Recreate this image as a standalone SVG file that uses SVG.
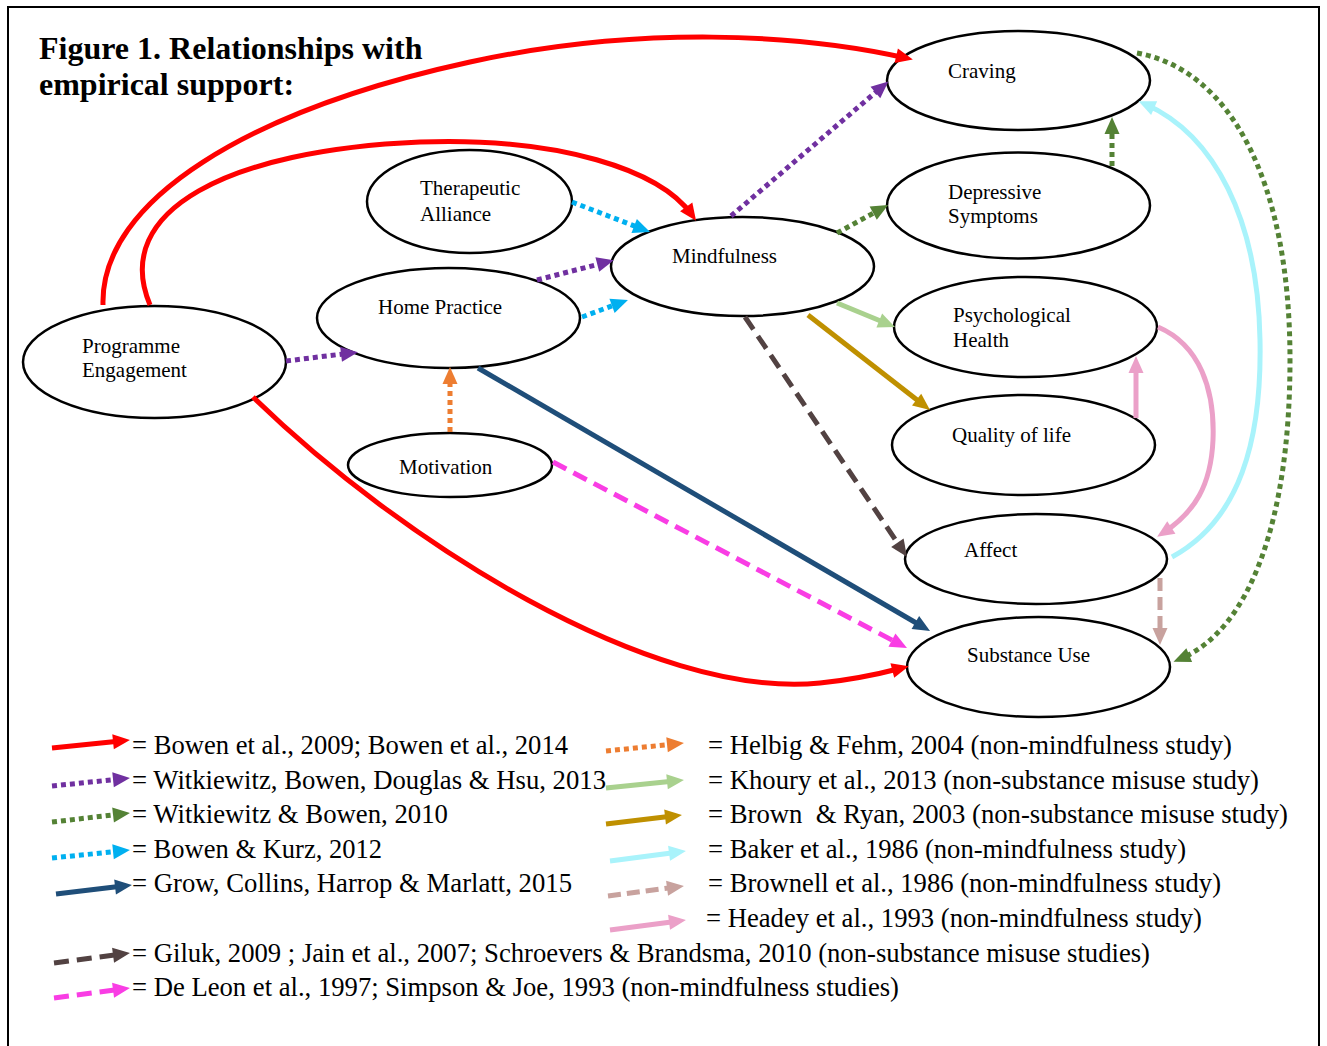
<svg xmlns="http://www.w3.org/2000/svg" width="1327" height="1046" viewBox="0 0 1327 1046">
<style>
text{font-family:"Liberation Serif","Times New Roman",serif;fill:#000}
.title{font-size:32px;font-weight:bold}
.lbl{font-size:21px}
.leg{font-size:26.5px}
.node{fill:#fff;stroke:#000;stroke-width:2.5}
.c{fill:none;stroke-width:5}
.dot{stroke-dasharray:5 4}
.dash{stroke-dasharray:15 8}
.dash2{stroke-dasharray:13 6}
.red{stroke:#FF0000}.pur{stroke:#7030A0}.grn{stroke:#548235}.cya{stroke:#00B0F0}.nav{stroke:#1F4E79}
.brn{stroke:#524242}.mag{stroke:#F93DE4}.org{stroke:#ED7D31}.lgr{stroke:#A9D18E}.gld{stroke:#BF9000}
.lcy{stroke:#A9F3FB}.ros{stroke:#C8A29E}.pnk{stroke:#EBA0C8}
</style>
<defs>
<marker id="mRed" markerUnits="userSpaceOnUse" markerWidth="17" markerHeight="15" refX="10" refY="7.5" orient="auto" overflow="visible"><path d="M0,0 L17,7.5 L0,15 z" fill="#FF0000"/></marker>
<marker id="mPur" markerUnits="userSpaceOnUse" markerWidth="17" markerHeight="15" refX="10" refY="7.5" orient="auto" overflow="visible"><path d="M0,0 L17,7.5 L0,15 z" fill="#7030A0"/></marker>
<marker id="mGrn" markerUnits="userSpaceOnUse" markerWidth="17" markerHeight="15" refX="10" refY="7.5" orient="auto" overflow="visible"><path d="M0,0 L17,7.5 L0,15 z" fill="#548235"/></marker>
<marker id="mCya" markerUnits="userSpaceOnUse" markerWidth="17" markerHeight="15" refX="10" refY="7.5" orient="auto" overflow="visible"><path d="M0,0 L17,7.5 L0,15 z" fill="#00B0F0"/></marker>
<marker id="mNav" markerUnits="userSpaceOnUse" markerWidth="17" markerHeight="15" refX="10" refY="7.5" orient="auto" overflow="visible"><path d="M0,0 L17,7.5 L0,15 z" fill="#1F4E79"/></marker>
<marker id="mBrn" markerUnits="userSpaceOnUse" markerWidth="17" markerHeight="15" refX="10" refY="7.5" orient="auto" overflow="visible"><path d="M0,0 L17,7.5 L0,15 z" fill="#524242"/></marker>
<marker id="mMag" markerUnits="userSpaceOnUse" markerWidth="17" markerHeight="15" refX="10" refY="7.5" orient="auto" overflow="visible"><path d="M0,0 L17,7.5 L0,15 z" fill="#F93DE4"/></marker>
<marker id="mOrg" markerUnits="userSpaceOnUse" markerWidth="17" markerHeight="15" refX="10" refY="7.5" orient="auto" overflow="visible"><path d="M0,0 L17,7.5 L0,15 z" fill="#ED7D31"/></marker>
<marker id="mLgr" markerUnits="userSpaceOnUse" markerWidth="17" markerHeight="15" refX="10" refY="7.5" orient="auto" overflow="visible"><path d="M0,0 L17,7.5 L0,15 z" fill="#A9D18E"/></marker>
<marker id="mGld" markerUnits="userSpaceOnUse" markerWidth="17" markerHeight="15" refX="10" refY="7.5" orient="auto" overflow="visible"><path d="M0,0 L17,7.5 L0,15 z" fill="#BF9000"/></marker>
<marker id="mLcy" markerUnits="userSpaceOnUse" markerWidth="17" markerHeight="15" refX="10" refY="7.5" orient="auto" overflow="visible"><path d="M0,0 L17,7.5 L0,15 z" fill="#A9F3FB"/></marker>
<marker id="mRos" markerUnits="userSpaceOnUse" markerWidth="17" markerHeight="15" refX="10" refY="7.5" orient="auto" overflow="visible"><path d="M0,0 L17,7.5 L0,15 z" fill="#C8A29E"/></marker>
<marker id="mPnk" markerUnits="userSpaceOnUse" markerWidth="17" markerHeight="15" refX="10" refY="7.5" orient="auto" overflow="visible"><path d="M0,0 L17,7.5 L0,15 z" fill="#EBA0C8"/></marker>
</defs>
<rect x="0" y="0" width="1327" height="1046" fill="#fff"/>
<rect x="8" y="7" width="1311" height="1060" fill="none" stroke="#000" stroke-width="2"/>
<text class="title" x="39" y="59">Figure 1. Relationships with</text>
<text class="title" x="39" y="95">empirical support:</text>

<g id="nodes">
<g id="craving"><ellipse class="node" cx="1018.5" cy="80.5" rx="131.5" ry="49.5"/><text class="lbl" x="948" y="78">Craving</text></g>
<g id="depressive"><ellipse class="node" cx="1018.5" cy="205.5" rx="131.5" ry="53"/><text class="lbl" x="948" y="199">Depressive</text><text class="lbl" x="948" y="223">Symptoms</text></g>
<g id="mindfulness"><ellipse class="node" cx="742.5" cy="266.5" rx="131.5" ry="49.5"/><text class="lbl" x="672" y="263">Mindfulness</text></g>
<g id="alliance"><ellipse class="node" cx="469.5" cy="201.5" rx="102.5" ry="51.5"/><text class="lbl" x="420" y="195">Therapeutic</text><text class="lbl" x="420" y="221">Alliance</text></g>
<g id="homepractice"><ellipse class="node" cx="448.5" cy="318" rx="131.5" ry="50"/><text class="lbl" x="378" y="314">Home Practice</text></g>
<g id="motivation"><ellipse class="node" cx="450" cy="465" rx="102" ry="32"/><text class="lbl" x="399" y="474">Motivation</text></g>
<g id="engagement"><ellipse class="node" cx="154.5" cy="362" rx="131.5" ry="56"/><text class="lbl" x="82" y="353">Programme</text><text class="lbl" x="82" y="377">Engagement</text></g>
<g id="psychhealth"><ellipse class="node" cx="1025.5" cy="327" rx="131.5" ry="50"/><text class="lbl" x="953" y="322">Psychological</text><text class="lbl" x="953" y="347">Health</text></g>
<g id="qol"><ellipse class="node" cx="1023.5" cy="445" rx="131.5" ry="50"/><text class="lbl" x="952" y="442">Quality of life</text></g>
<g id="affect"><ellipse class="node" cx="1036" cy="559" rx="131" ry="45"/><text class="lbl" x="964" y="557">Affect</text></g>
<g id="substance"><ellipse class="node" cx="1038.5" cy="667" rx="131.5" ry="50"/><text class="lbl" x="967" y="662">Substance Use</text></g>
</g>

<g id="connectors">
<path class="c red" marker-end="url(#mRed)" d="M103,305 C100,200 250,110 470,62 C640,25 800,34 906,58"/>
<path class="c red" marker-end="url(#mRed)" d="M150,305 C110,210 230,150 420,142 C560,137 660,170 692,215"/>
<path class="c red" marker-end="url(#mRed)" d="M253,397 C400,540 650,700 820,683 C850,680 875,675 902,668"/>
<path class="c pur dot" marker-end="url(#mPur)" d="M286,361 L351,353"/>
<path class="c pur dot" marker-end="url(#mPur)" d="M537,280 L607,262"/>
<path class="c pur dot" marker-end="url(#mPur)" d="M731,216 L883,86"/>
<path class="c cya dot" marker-end="url(#mCya)" d="M572,202 L643.5,229.5"/>
<path class="c cya dot" marker-end="url(#mCya)" d="M582,317 L621.4,302.4"/>
<path class="c org dot" marker-end="url(#mOrg)" d="M450,432 L450,374"/>
<path class="c nav" marker-end="url(#mNav)" d="M478,368 L924,627.5"/>
<path class="c mag dash" marker-end="url(#mMag)" d="M553,462 L900.8,644.7"/>
<path class="c grn dot" marker-end="url(#mGrn)" d="M837,233 L882,208.4"/>
<path class="c grn dot" marker-end="url(#mGrn)" d="M1112,166 L1112,124"/>
<path class="c grn dot" marker-end="url(#mGrn)" d="M1137,53 C1230,70 1290,180 1290,360 C1290,520 1250,630 1180,659"/>
<path class="c lcy" marker-end="url(#mLcy)" d="M1172,557 C1240,520 1262,440 1260,340 C1258,220 1215,135 1145,104"/>
<path class="c pnk" marker-end="url(#mPnk)" d="M1158,327 C1200,345 1215,390 1213,440 C1211,485 1195,512 1163,533"/>
<path class="c pnk" marker-end="url(#mPnk)" d="M1136,418 L1136,363"/>
<path class="c ros dash2" marker-end="url(#mRos)" d="M1160,578 L1160,638"/>
<path class="c lgr" marker-end="url(#mLgr)" d="M837,303 L888.5,324.3"/>
<path class="c gld" marker-end="url(#mGld)" d="M808,315 L924.5,405.7"/>
<path class="c brn dash" marker-end="url(#mBrn)" d="M745,317 L903,551"/>
</g>

<g id="legend">
<path class="c red" marker-end="url(#mRed)" d="M52,748 L123,740.7"/>
<path class="c pur dot" marker-end="url(#mPur)" d="M52,786 L123,778.7"/>
<path class="c grn dot" marker-end="url(#mGrn)" d="M52,822 L123,813.8"/>
<path class="c cya dot" marker-end="url(#mCya)" d="M52,858 L123,850.8"/>
<path class="c nav" marker-end="url(#mNav)" d="M56,894 L125,885.8"/>
<path class="c brn dash" marker-end="url(#mBrn)" d="M54,963 L123,953.9"/>
<path class="c mag dash" marker-end="url(#mMag)" d="M54,998 L123,988.9"/>
<path class="c org dot" marker-end="url(#mOrg)" d="M606,751 L677,743.7"/>
<path class="c lgr" marker-end="url(#mLgr)" d="M606,788 L677,780.7"/>
<path class="c gld" marker-end="url(#mGld)" d="M606,824 L675,815.8"/>
<path class="c lcy" marker-end="url(#mLcy)" d="M610,861 L679,851.9"/>
<path class="c ros dash2" marker-end="url(#mRos)" d="M608,896 L677,886.9"/>
<path class="c pnk" marker-end="url(#mPnk)" d="M610,930 L679,920.9"/>
<text class="leg" x="132" y="754" textLength="436" lengthAdjust="spacingAndGlyphs">= Bowen et al., 2009; Bowen et al., 2014</text>
<text class="leg" x="132" y="789" textLength="474" lengthAdjust="spacingAndGlyphs">= Witkiewitz, Bowen, Douglas &amp; Hsu, 2013</text>
<text class="leg" x="132" y="823" textLength="316" lengthAdjust="spacingAndGlyphs">= Witkiewitz &amp; Bowen, 2010</text>
<text class="leg" x="132" y="858" textLength="250" lengthAdjust="spacingAndGlyphs">= Bowen &amp; Kurz, 2012</text>
<text class="leg" x="132" y="892" textLength="440" lengthAdjust="spacingAndGlyphs">= Grow, Collins, Harrop &amp; Marlatt, 2015</text>
<text class="leg" x="132" y="962" textLength="1018" lengthAdjust="spacingAndGlyphs">= Giluk, 2009 ; Jain et al., 2007; Schroevers &amp; Brandsma, 2010 (non-substance misuse studies)</text>
<text class="leg" x="132" y="996" textLength="767" lengthAdjust="spacingAndGlyphs">= De Leon et al., 1997; Simpson &amp; Joe, 1993 (non-mindfulness studies)</text>
<text class="leg" x="708" y="754" textLength="524" lengthAdjust="spacingAndGlyphs">= Helbig &amp; Fehm, 2004 (non-mindfulness study)</text>
<text class="leg" x="708" y="789" textLength="551" lengthAdjust="spacingAndGlyphs">= Khoury et al., 2013 (non-substance misuse study)</text>
<text class="leg" x="708" y="823" textLength="580" lengthAdjust="spacingAndGlyphs">= Brown&#160; &amp; Ryan, 2003 (non-substance misuse study)</text>
<text class="leg" x="708" y="858" textLength="478" lengthAdjust="spacingAndGlyphs">= Baker et al., 1986 (non-mindfulness study)</text>
<text class="leg" x="708" y="892" textLength="513" lengthAdjust="spacingAndGlyphs">= Brownell et al., 1986 (non-mindfulness study)</text>
<text class="leg" x="706" y="927" textLength="496" lengthAdjust="spacingAndGlyphs">= Headey et al., 1993 (non-mindfulness study)</text>
</g>
</svg>
